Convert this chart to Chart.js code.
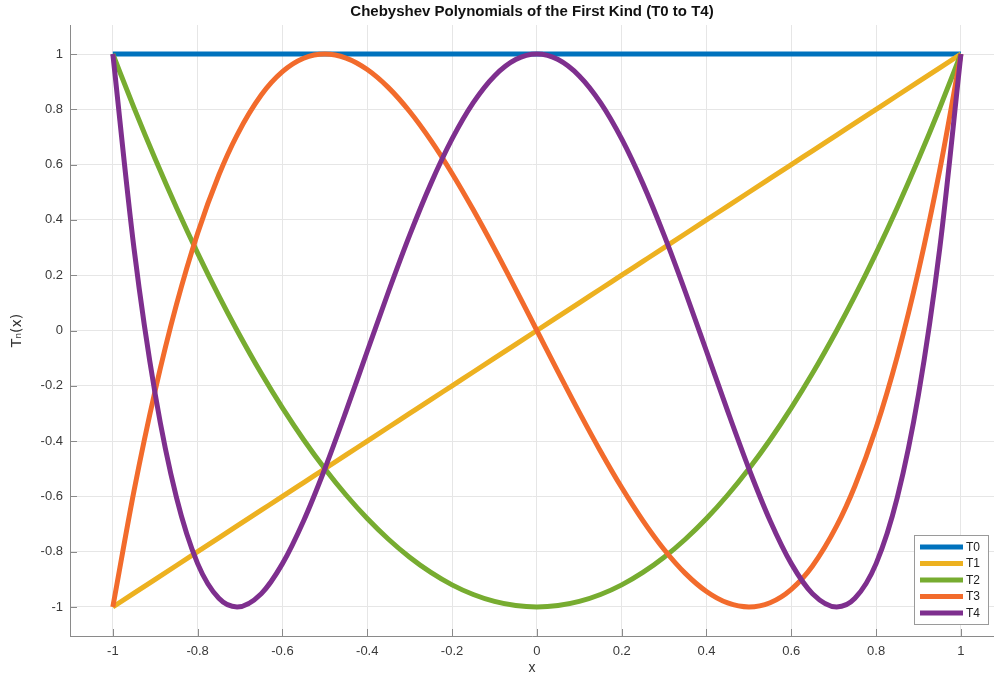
<!DOCTYPE html>
<html>
<head>
<meta charset="utf-8">
<script src="https://cdn.jsdelivr.net/npm/chart.js@4.4.1/dist/chart.umd.min.js"></script>
<style>
  html, body { margin: 0; padding: 0; background: #fff; }
  #wrap { width: 994px; height: 677px; }
</style>
</head>
<body>
<div id="wrap"><canvas id="myChart"></canvas></div>
<script>
// datos
const xVals = [-1, -0.95, -0.9, -0.85, -0.8, -0.75, -0.707, -0.65, -0.6, -0.55, -0.5,
  -0.45, -0.4, -0.35, -0.3, -0.25, -0.2, -0.15, -0.1, -0.05, 0,
  0.05, 0.1, 0.15, 0.2, 0.25, 0.3, 0.35, 0.4, 0.45, 0.5,
  0.55, 0.6, 0.65, 0.707, 0.75, 0.8, 0.85, 0.9, 0.95, 1];

const t0 = [1, 1, 1, 1, 1, 1, 1, 1, 1, 1, 1, 1, 1, 1, 1, 1, 1, 1, 1, 1, 1,
  1, 1, 1, 1, 1, 1, 1, 1, 1, 1, 1, 1, 1, 1, 1, 1, 1, 1, 1, 1];

const t1 = [-1, -0.95, -0.9, -0.85, -0.8, -0.75, -0.707, -0.65, -0.6, -0.55, -0.5,
  -0.45, -0.4, -0.35, -0.3, -0.25, -0.2, -0.15, -0.1, -0.05, 0,
  0.05, 0.1, 0.15, 0.2, 0.25, 0.3, 0.35, 0.4, 0.45, 0.5,
  0.55, 0.6, 0.65, 0.707, 0.75, 0.8, 0.85, 0.9, 0.95, 1];

const t2 = [1, 0.805, 0.62, 0.445, 0.28, 0.125, 0, -0.155, -0.28, -0.395, -0.5,
  -0.595, -0.68, -0.755, -0.82, -0.875, -0.92, -0.955, -0.98, -0.995, -1,
  -0.995, -0.98, -0.955, -0.92, -0.875, -0.82, -0.755, -0.68, -0.595, -0.5,
  -0.395, -0.28, -0.155, 0, 0.125, 0.28, 0.445, 0.62, 0.805, 1];

const t3 = [-1, -0.5795, -0.216, 0.0935, 0.352, 0.5625, 0.707, 0.8515, 0.936, 0.9845, 1,
  0.9855, 0.944, 0.8785, 0.792, 0.6875, 0.568, 0.4365, 0.296, 0.1495, 0,
  -0.1495, -0.296, -0.4365, -0.568, -0.6875, -0.792, -0.8785, -0.944, -0.9855, -1,
  -0.9845, -0.936, -0.8515, -0.707, -0.5625, -0.352, -0.0935, 0.216, 0.5795, 1];

const t4 = [1, 0.296, -0.2312, -0.6039, -0.8432, -0.96875, -1, -0.9519, -0.8432, -0.6879, -0.5,
  -0.2919, -0.0752, 0.1401, 0.3448, 0.53125, 0.6928, 0.8241, 0.9208, 0.98, 1,
  0.98, 0.9208, 0.8241, 0.6928, 0.53125, 0.3448, 0.1401, -0.0752, -0.2919, -0.5,
  -0.6879, -0.8432, -0.9519, -1, -0.96875, -0.8432, -0.6039, -0.2312, 0.296, 1];

const nombres = ["T0", "T1", "T2", "T3", "T4"];
const series = [t0, t1, t2, t3, t4];
const colores = ["#0072BD", "#EDB120", "#77AC30", "#F26B2C", "#7E2F8E"];

const xTicks = [-1, -0.8, -0.6, -0.4, -0.2, 0, 0.2, 0.4, 0.6, 0.8, 1];
const yTicks = [-1, -0.8, -0.6, -0.4, -0.2, 0, 0.2, 0.4, 0.6, 0.8, 1];

const ctx = document.getElementById("myChart");
const fuente = "'Liberation Sans', Arial, sans-serif";

// marcas de eje hacia adentro (estilo MATLAB)
const tickMarks = {
  id: "tickMarks",
  beforeDatasetsDraw(chart) {
    const c = chart.ctx;
    const a = chart.chartArea;
    const sx = chart.scales.x;
    const sy = chart.scales.y;
    c.save();
    c.strokeStyle = "#8a8a8a";
    c.lineWidth = 1;
    c.beginPath();
    xTicks.forEach((v) => {
      const px = Math.round(sx.getPixelForValue(v)) + 0.5;
      c.moveTo(px, a.bottom);
      c.lineTo(px, a.bottom - 7);
    });
    yTicks.forEach((v) => {
      const py = Math.round(sy.getPixelForValue(v)) + 0.5;
      c.moveTo(a.left, py);
      c.lineTo(a.left + 7, py);
    });
    c.stroke();
    c.restore();
  },
};

// leyenda dentro del area, abajo a la derecha
const legendBox = {
  id: "legendBox",
  afterDatasetsDraw(chart) {
    const c = chart.ctx;
    const x0 = 914, y0 = 535, w = 74, h = 89;
    c.save();
    c.fillStyle = "#fff";
    c.fillRect(x0, y0, w, h);
    c.strokeStyle = "#9a9a9a";
    c.lineWidth = 1;
    c.strokeRect(x0 + 0.5, y0 + 0.5, w, h);
    c.font = "12px " + fuente;
    c.textBaseline = "middle";
    nombres.forEach((n, i) => {
      const y = y0 + 12 + i * 16.5;
      c.strokeStyle = colores[i];
      c.lineWidth = 5;
      c.beginPath();
      c.moveTo(x0 + 6, y);
      c.lineTo(x0 + 49, y);
      c.stroke();
      c.fillStyle = "#222";
      c.fillText(n, x0 + 52, y + 0.5);
    });
    c.restore();
  },
};

const datasets = series.map((s, i) => {
  return {
    label: nombres[i],
    data: xVals.map((x, k) => ({ x: x, y: s[k] })),
    borderColor: colores[i],
    backgroundColor: colores[i],
    borderWidth: 5,
    pointRadius: 0,
    cubicInterpolationMode: "monotone",
    order: 4 - i,
  };
});

const fmt = (v) => {
  const r = Math.round(v * 10) / 10;
  return r === 0 ? "0" : String(r);
};

new Chart(ctx, {
  type: "line",
  data: { datasets: datasets },
  options: {
    responsive: true,
    maintainAspectRatio: false,
    animation: false,
    layout: { padding: { top: 0, right: 0, bottom: 0, left: 0 } },
    plugins: {
      legend: { display: false },
      tooltip: { enabled: false },
      title: {
        display: true,
        text: "Chebyshev Polynomials of the First Kind (T0 to T4)",
        color: "#111",
        fullSize: false,
        font: { family: fuente, size: 15, weight: "bold" },
        padding: { top: 3, bottom: 4 },
      },
    },
    scales: {
      x: {
        type: "linear",
        min: -1.101,
        max: 1.078,
        afterFit: (s) => { s.height = 41; },
        afterBuildTicks: (s) => { s.ticks = xTicks.map((v) => ({ value: v })); },
        ticks: {
          color: "#3a3a3a",
          padding: 8,
          font: { family: fuente, size: 13 },
          callback: fmt,
        },
        grid: { color: "#e6e6e6", drawTicks: false },
        border: { color: "#8a8a8a", width: 1 },
        title: {
          display: true,
          text: "x",
          color: "#333",
          font: { family: fuente, size: 14 },
          padding: { top: 0, bottom: 0 },
        },
      },
      y: {
        type: "linear",
        min: -1.105,
        max: 1.105,
        afterFit: (s) => { s.width = 70; },
        afterBuildTicks: (s) => { s.ticks = yTicks.map((v) => ({ value: v })); },
        ticks: {
          color: "#3a3a3a",
          padding: 7,
          font: { family: fuente, size: 13 },
          callback: fmt,
        },
        grid: { color: "#e6e6e6", drawTicks: false },
        border: { color: "#8a8a8a", width: 1 },
        title: {
          display: true,
          text: "Tₙ(x)",
          color: "#333",
          font: { family: "'DejaVu Sans', sans-serif", size: 14 },
          padding: { top: 9, bottom: 0 },
        },
      },
    },
  },
  plugins: [tickMarks, legendBox],
});
</script>
</body>
</html>
